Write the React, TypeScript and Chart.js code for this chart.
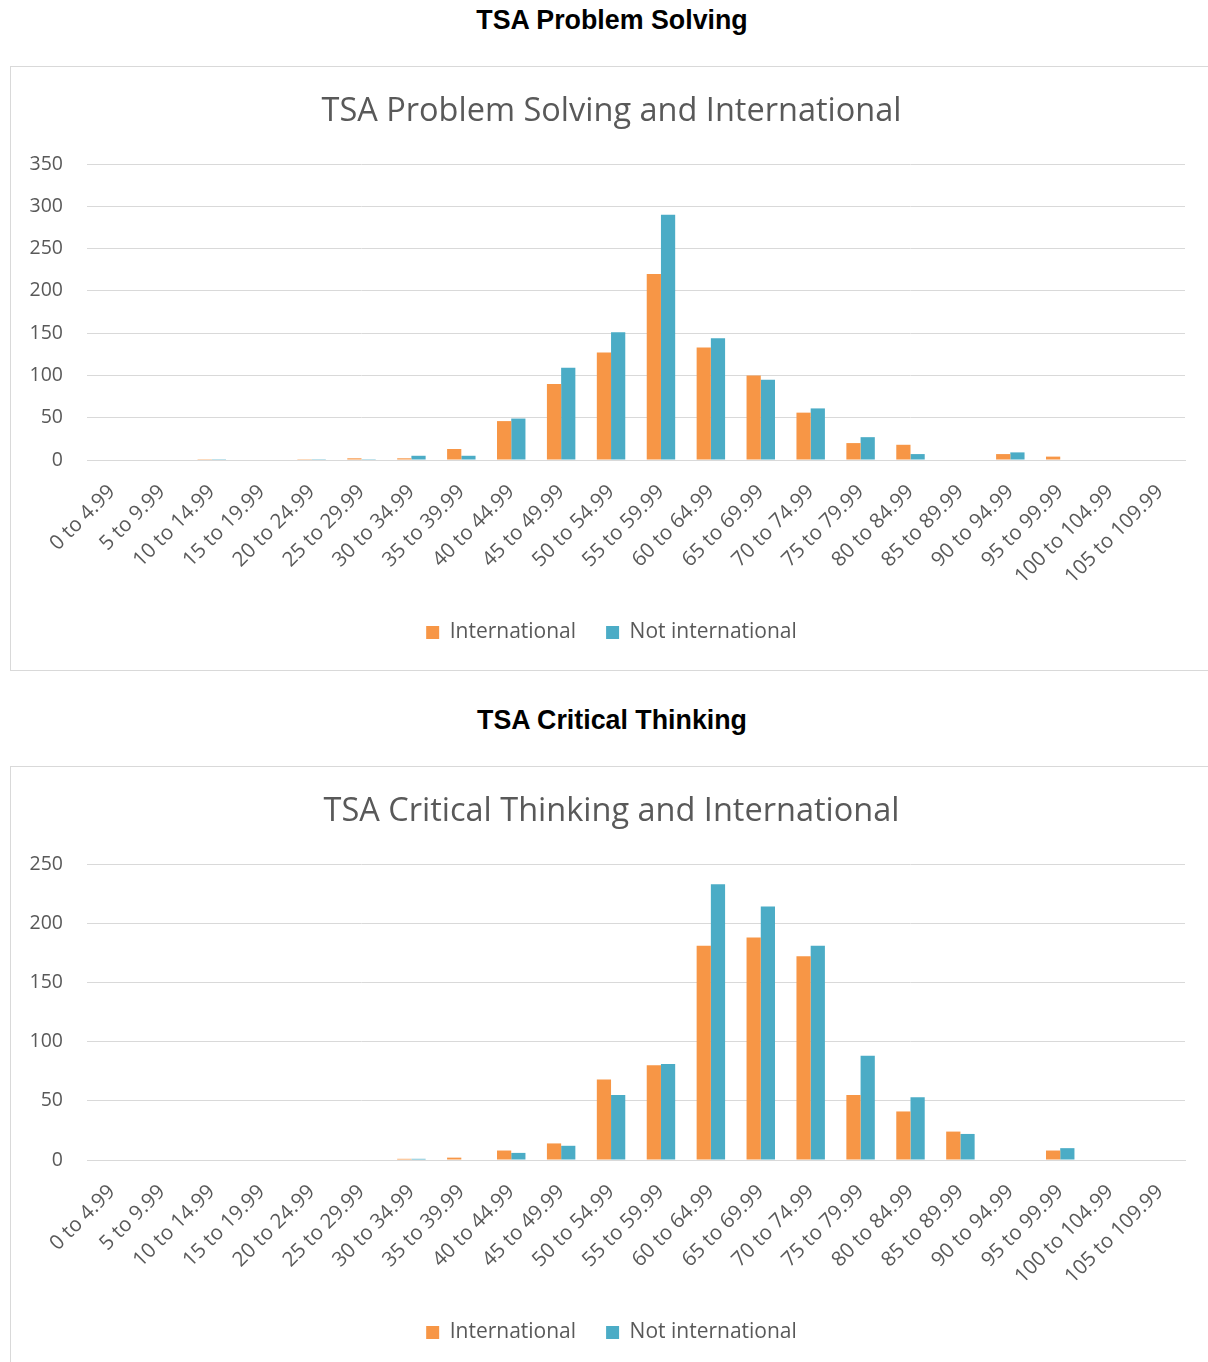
import React, { useEffect, useRef } from "react";
import Chart from "chart.js/auto";

document.body.style.margin = "0";
document.body.style.overflow = "hidden";

const categories = [
  "0 to 4.99", "5 to 9.99", "10 to 14.99", "15 to 19.99", "20 to 24.99", "25 to 29.99",
  "30 to 34.99", "35 to 39.99", "40 to 44.99", "45 to 49.99", "50 to 54.99", "55 to 59.99",
  "60 to 64.99", "65 to 69.99", "70 to 74.99", "75 to 79.99", "80 to 84.99", "85 to 89.99",
  "90 to 94.99", "95 to 99.99", "100 to 104.99", "105 to 109.99",
];

const seriesNames = ["International", "Not international"];

const psInternational = [0, 0, 1, 0, 1, 2, 2, 13, 46, 90, 127, 220, 133, 100, 56, 20, 18, 0, 7, 4, 0, 0];
const psNotInternational = [0, 0, 1, 0, 1, 1, 5, 5, 49, 109, 151, 290, 144, 95, 61, 27, 7, 0, 9, 0, 0, 0];

const ctInternational = [0, 0, 0, 0, 0, 0, 1, 2, 8, 14, 68, 80, 181, 188, 172, 55, 41, 24, 0, 8, 0, 0];
const ctNotInternational = [0, 0, 0, 0, 0, 0, 1, 0, 6, 12, 55, 81, 233, 214, 181, 88, 53, 22, 0, 10, 0, 0];

const psAxisMax = 350;
const ctAxisMax = 250;
const axisStep = 50;

const ORANGE = "#F79646";
const BLUE = "#4BACC6";
const TEXT = "#595959";
const GRID = "#d9d9d9";
const FONT = "'Open Sans', 'Noto Sans', sans-serif";

type Props = { title: string; intl: number[]; notIntl: number[]; max: number };

function BarChart({ title, intl, notIntl, max }: Props) {
  const ref = useRef<HTMLCanvasElement>(null);
  useEffect(() => {
    const chart = new Chart(ref.current as HTMLCanvasElement, {
      type: "bar",
      data: {
        labels: categories,
        datasets: [
          { label: seriesNames[0], data: intl, backgroundColor: ORANGE, categoryPercentage: 0.57, barPercentage: 1 },
          { label: seriesNames[1], data: notIntl, backgroundColor: BLUE, categoryPercentage: 0.57, barPercentage: 1 },
        ],
      },
      options: {
        responsive: false,
        animation: false,
        layout: { padding: { left: 0, right: 0, top: 0, bottom: 17 } },
        plugins: {
          title: {
            display: true,
            text: title,
            color: TEXT,
            font: { family: FONT, size: 32.5, weight: "normal" },
            padding: { top: 25, bottom: 33 },
          },
          legend: {
            position: "bottom",
            labels: {
              boxWidth: 13,
              boxHeight: 13,
              padding: 30,
              color: TEXT,
              font: { family: FONT, size: 21 },
            },
          },
          tooltip: { enabled: false },
        },
        scales: {
          x: {
            grid: { display: false },
            border: { display: true, color: GRID, width: 1 },
            ticks: {
              minRotation: 45,
              maxRotation: 45,
              autoSkip: false,
              color: TEXT,
              font: { family: FONT, size: 20.5 },
              padding: 12,
            },
            afterFit: (s: any) => {
              s.height = 132;
            },
          },
          y: {
            min: 0,
            max,
            ticks: { stepSize: axisStep, color: TEXT, font: { family: FONT, size: 19.5 }, padding: 24 },
            grid: { color: GRID, drawTicks: false, lineWidth: 1 },
            border: { display: false },
            afterFit: (s: any) => {
              s.width = 76;
            },
          },
          yRightSpace: {
            type: "linear",
            position: "right",
            display: true,
            grid: { display: false, drawTicks: false },
            border: { display: false },
            ticks: { display: false },
            afterFit: (s: any) => {
              s.width = 27;
            },
          },
        },
      },
    });
    return () => chart.destroy();
  }, []);
  return <canvas ref={ref} width={1201} height={603} style={{ display: "block", width: 1201, height: 603 }} />;
}

const headingStyle: React.CSSProperties = {
  position: "absolute",
  left: 612,
  transform: "translateX(-50%)",
  whiteSpace: "nowrap",
  fontFamily: "'Liberation Sans', Arial, sans-serif",
  fontWeight: "bold",
  fontSize: 26.8,
  lineHeight: "30px",
  color: "#000",
};

const boxStyle: React.CSSProperties = {
  position: "absolute",
  left: 10,
  width: 1201,
  height: 603,
  border: `1px solid ${GRID}`,
  background: "#fff",
};

export default function App() {
  return (
    <div style={{ position: "relative", width: 1208, height: 1362, overflow: "hidden", background: "#fff" }}>
      <div style={{ ...headingStyle, top: 5 }}>TSA Problem Solving</div>
      <div style={{ ...boxStyle, top: 66 }}>
        <BarChart title="TSA Problem Solving and International" intl={psInternational} notIntl={psNotInternational} max={psAxisMax} />
      </div>
      <div style={{ ...headingStyle, top: 705 }}>TSA Critical Thinking</div>
      <div style={{ ...boxStyle, top: 766 }}>
        <BarChart title="TSA Critical Thinking and International" intl={ctInternational} notIntl={ctNotInternational} max={ctAxisMax} />
      </div>
    </div>
  );
}
